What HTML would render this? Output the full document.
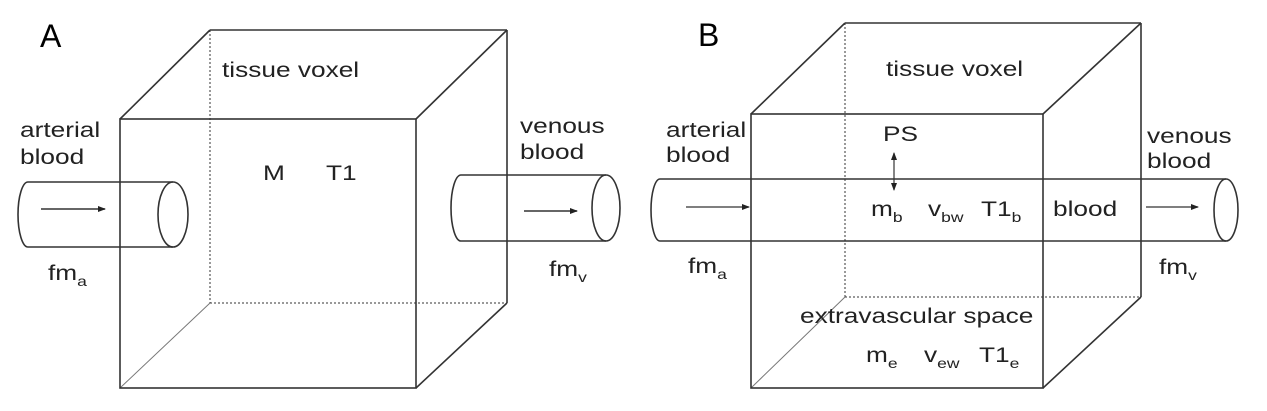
<!DOCTYPE html>
<html><head><meta charset="utf-8"><style>
html,body{margin:0;padding:0;background:#fff;}
svg{display:block;}
text{font-family:"Liberation Sans",Arial,sans-serif;fill:#222;font-size:21px;}
.lbl{font-size:32px;fill:#000;}
.s{font-size:14px;}
</style></head><body>
<svg width="1267" height="411" viewBox="0 0 1267 411" xmlns="http://www.w3.org/2000/svg">
<defs><marker id="ah" markerWidth="8" markerHeight="8" refX="7" refY="4" orient="auto" markerUnits="userSpaceOnUse"><path d="M0,1 L8,4 L0,7 Z" fill="#222"/></marker>
<marker id="ah2" markerWidth="8" markerHeight="8" refX="7" refY="4" orient="auto-start-reverse" markerUnits="userSpaceOnUse"><path d="M0,1 L8,4 L0,7 Z" fill="#222"/></marker></defs>
<g stroke="#333" fill="none" stroke-width="1.6">
<text class="lbl" x="40" y="47" stroke="none">A</text>
<line x1="210" y1="30" x2="507" y2="30"/><line x1="507" y1="30" x2="507" y2="303"/>
<line x1="210" y1="30" x2="210" y2="303" stroke-dasharray="2,2" stroke-width="1"/>
<line x1="210" y1="303" x2="507" y2="303" stroke-dasharray="2,2" stroke-width="1"/>
<line x1="120" y1="119" x2="210" y2="30"/><line x1="416" y1="119" x2="507" y2="30"/>
<line x1="416" y1="388" x2="507" y2="303"/><line x1="120" y1="388" x2="210" y2="303" stroke-width="1" stroke="#777"/>
<rect x="120" y="119" width="296" height="269"/>
<g>
<path d="M28,182 A10,32.5 0 0 0 28,247"/><line x1="28" y1="182" x2="173" y2="182"/><line x1="28" y1="247" x2="173" y2="247"/>
<ellipse cx="173" cy="214.5" rx="15" ry="32.5"/>
<line x1="41" y1="209" x2="105" y2="209" marker-end="url(#ah)"/></g>
<g>
<path d="M461,175 A10,33 0 0 0 461,241"/><line x1="461" y1="175" x2="606" y2="175"/><line x1="461" y1="241" x2="606" y2="241"/>
<ellipse cx="606" cy="208" rx="14" ry="33"/>
<line x1="524" y1="211" x2="577" y2="211" marker-end="url(#ah)"/></g>
<g stroke="none">
<text transform="translate(222,77) scale(1.25,1)">tissue voxel</text>
<text transform="translate(20,137) scale(1.25,1)">arterial</text><text transform="translate(20,164) scale(1.25,1)">blood</text>
<text transform="translate(263,180) scale(1.25,1)">M</text><text transform="translate(326,180) scale(1.25,1)">T1</text>
<text transform="translate(48,280) scale(1.25,1)">fm<tspan class="s" dy="6">a</tspan></text>
<text transform="translate(520,133) scale(1.25,1)">venous</text><text transform="translate(520,159) scale(1.25,1)">blood</text>
<text transform="translate(549,276) scale(1.25,1)">fm<tspan class="s" dy="6">v</tspan></text>
</g></g>
<g stroke="#333" fill="none" stroke-width="1.6">
<text class="lbl" x="698" y="46" stroke="none">B</text>
<line x1="845" y1="23" x2="1141" y2="23"/><line x1="1141" y1="23" x2="1141" y2="297"/>
<line x1="845" y1="23" x2="845" y2="297" stroke-dasharray="2,2" stroke-width="1"/>
<line x1="845" y1="297" x2="1141" y2="297" stroke-dasharray="2,2" stroke-width="1"/>
<line x1="751" y1="114" x2="845" y2="23"/><line x1="1043" y1="114" x2="1141" y2="23"/>
<line x1="1043" y1="388" x2="1141" y2="297"/><line x1="751" y1="388" x2="845" y2="297" stroke-width="1" stroke="#777"/>
<rect x="751" y="114" width="292" height="274"/>
<g>
<path d="M660,179 A9,31 0 0 0 660,241"/><line x1="660" y1="179" x2="1226" y2="179"/><line x1="660" y1="241" x2="1226" y2="241"/>
<ellipse cx="1226" cy="210" rx="12" ry="31"/>
<line x1="686" y1="207" x2="749" y2="207" marker-end="url(#ah)" stroke-width="1.2"/>
<line x1="1146" y1="207" x2="1198" y2="207" marker-end="url(#ah)" stroke-width="1.2"/></g>
<line x1="894" y1="153" x2="894" y2="190" marker-start="url(#ah2)" marker-end="url(#ah2)" stroke-width="1.2"/>
<g stroke="none">
<text transform="translate(886,76) scale(1.25,1)">tissue voxel</text>
<text transform="translate(883,141) scale(1.25,1)">PS</text>
<text transform="translate(666,137) scale(1.25,1)">arterial</text><text transform="translate(666,162) scale(1.25,1)">blood</text>
<text transform="translate(871,216) scale(1.25,1)">m<tspan class="s" dy="6">b</tspan></text>
<text transform="translate(928,216) scale(1.25,1)">v<tspan class="s" dy="6">bw</tspan></text>
<text transform="translate(981,216) scale(1.25,1)">T1<tspan class="s" dy="6">b</tspan></text>
<text transform="translate(1053,216) scale(1.25,1)">blood</text>
<text transform="translate(688,273) scale(1.25,1)">fm<tspan class="s" dy="6">a</tspan></text>
<text transform="translate(1147,143) scale(1.25,1)">venous</text><text transform="translate(1147,168) scale(1.25,1)">blood</text>
<text transform="translate(1159,274) scale(1.25,1)">fm<tspan class="s" dy="6">v</tspan></text>
<text transform="translate(800,323) scale(1.25,1)">extravascular space</text>
<text transform="translate(866,362) scale(1.25,1)">m<tspan class="s" dy="6">e</tspan></text>
<text transform="translate(924,362) scale(1.25,1)">v<tspan class="s" dy="6">ew</tspan></text>
<text transform="translate(979,362) scale(1.25,1)">T1<tspan class="s" dy="6">e</tspan></text>
</g></g>
</svg>
</body></html>
